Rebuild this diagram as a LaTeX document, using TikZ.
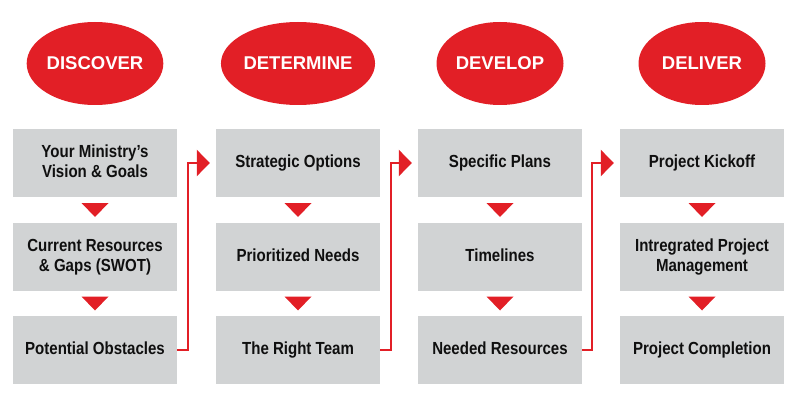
\documentclass[tikz,border=0pt]{standalone}
\usepackage{fontspec}
\setmainfont{Liberation Sans}
\newfontfamily\narrowfont[FakeStretch=0.86]{Liberation Sans}
\usetikzlibrary{shapes.geometric,arrows.meta,calc}
\definecolor{phasered}{RGB}{226,31,38}
\definecolor{boxgray}{RGB}{209,211,212}
\definecolor{boxtext}{RGB}{15,15,15}
\newcommand\boxstrut{\rule[-4pt]{0pt}{16pt}}

\begin{document}
\begin{tikzpicture}[x=1pt, y=-1pt,
	phase/.style={ellipse, fill=phasered, minimum width=127pt, minimum height=83pt, inner sep=0pt, text=white, font=\fontsize{18.5}{20}\selectfont\bfseries},
	stepbox/.style={rectangle, fill=boxgray, minimum width=164pt, minimum height=68pt, inner sep=0pt, align=center, text=boxtext, font=\narrowfont\fontsize{17.5}{20}\selectfont\bfseries, execute at begin node=\boxstrut, execute at end node=\boxstrut},
	link/.style={draw=phasered, line width=2.5pt, -{Triangle[width=26pt,length=13pt]}, shorten >=6pt},
	tri/.style={fill=phasered}]
	\useasboundingbox (0,0) rectangle (800,409);

	% phases
	\node[phase] (discover) at (95,63.5) {DISCOVER};
	\node[phase] (determine) at (298,63.5) {DETERMINE};
	\node[phase] (develop) at (500,63.5) {DEVELOP};
	\node[phase] (deliver) at (702,63.5) {DELIVER};

	% steps
	\node[stepbox] (vision) at (95,163) {Your Ministry’s\\Vision \& Goals};
	\node[stepbox] (resources) at (95,257) {Current Resources\\\& Gaps (SWOT)};
	\node[stepbox] (obstacles) at (95,350) {Potential Obstacles};
	\node[stepbox] (options) at (298,163) {Strategic Options};
	\node[stepbox] (needs) at (298,257) {Prioritized Needs};
	\node[stepbox] (team) at (298,350) {The Right Team};
	\node[stepbox] (plans) at (500,163) {Specific Plans};
	\node[stepbox] (timelines) at (500,257) {Timelines};
	\node[stepbox] (needed) at (500,350) {Needed Resources};
	\node[stepbox] (kickoff) at (702,163) {Project Kickoff};
	\node[stepbox] (management) at (702,257) {Intregrated Project\\Management};
	\node[stepbox] (completion) at (702,350) {Project Completion};

	\foreach \a/\b in {vision/resources, resources/obstacles, options/needs, needs/team,
		plans/timelines, timelines/needed, kickoff/management, management/completion}
		\fill[tri] ($(\a.south)!.5!(\b.north)$) +(-13.5,-7) -- +(13.5,-7) -- +(0,7) -- cycle;

	\draw[link] (obstacles.east) -- ++(11,0) |- (options.west);
	\draw[link] (team.east) -- ++(11,0) |- (plans.west);
	\draw[link] (needed.east) -- ++(10,0) |- (kickoff.west);
\end{tikzpicture}
\end{document}
